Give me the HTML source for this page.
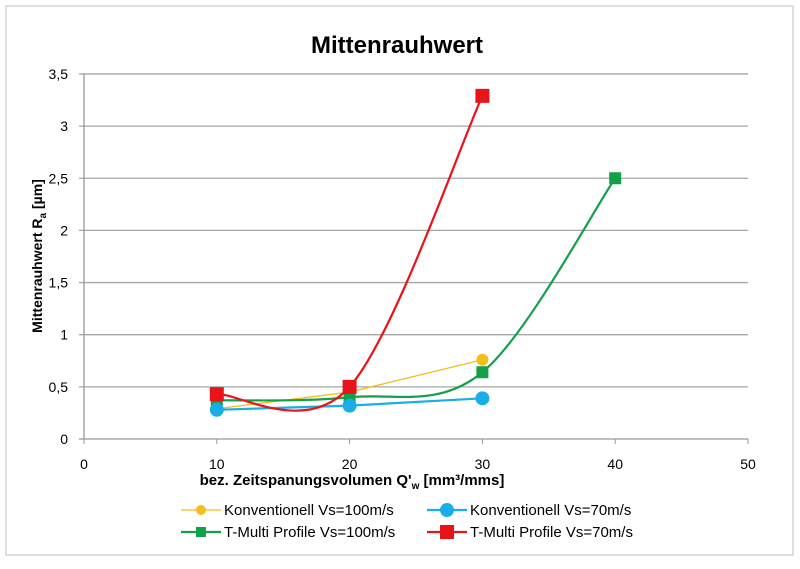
<!DOCTYPE html>
<html><head><meta charset="utf-8"><style>
body{margin:0;background:#fff;font-family:"Liberation Sans",sans-serif}
svg text{font-family:"Liberation Sans",sans-serif}
</style></head><body>
<svg width="800" height="564" viewBox="0 0 800 564" xmlns="http://www.w3.org/2000/svg">
<rect x="6" y="6" width="787" height="549" fill="#fff" stroke="#bfbfbf"/>
<text x="397" y="53" text-anchor="middle" font-size="24" font-weight="bold">Mittenrauhwert</text>
<g id="grid"></g><g id="axes"></g><g id="series"></g>
<text transform="translate(42,256) rotate(-90)" text-anchor="middle" font-size="14" font-weight="bold">Mittenrauhwert  R<tspan font-size="10" dy="4">a</tspan><tspan dy="-4"> [µm]</tspan></text>
<text x="352" y="485" text-anchor="middle" font-size="15" font-weight="bold">bez. Zeitspanungsvolumen  Q'<tspan font-size="10" dy="4">w</tspan><tspan dy="-4">  [mm³/mms]</tspan></text>
<g id="legend"></g>
</svg>
<script>
const xTicks=[0,10,20,30,40,50];
const yTicks=[0,0.5,1,1.5,2,2.5,3,3.5];
const yTickLabels=["0","0,5","1","1,5","2","2,5","3","3,5"];
const konv100X=[10,20,30], konv100Y=[0.29,0.45,0.76];
const konv70X=[10,20,30], konv70Y=[0.28,0.32,0.39];
const tm100X=[10,20,30,40], tm100Y=[0.37,0.40,0.64,2.5];
const tm70X=[10,20,30], tm70Y=[0.43,0.50,3.29];
const seriesNames=["Konventionell  Vs=100m/s","Konventionell  Vs=70m/s","T-Multi Profile  Vs=100m/s","T-Multi Profile  Vs=70m/s"];
const NS="http://www.w3.org/2000/svg";
const X=v=>84+v*13.28, Y=v=>439-v*104.3;
function mk(t,a,p){const e=document.createElementNS(NS,t);for(const k in a)e.setAttribute(k,a[k]);p.appendChild(e);return e;}
const grid=document.getElementById('grid'),axes=document.getElementById('axes'),ser=document.getElementById('series'),leg=document.getElementById('legend');
const yAxis=mk('line',{x1:X(0),x2:X(0),y1:Y(3.5),y2:Y(0),stroke:'#999','stroke-width':1.3},axes);


yTicks.forEach((v,i)=>{
 const l=mk('line',{x1:X(0)-5,x2:X(50),y1:Y(v),y2:Y(v),stroke:i==0?'#999':'#a6a6a6','stroke-width':1.3},grid);
 
 
 const t=mk('text',{x:X(0)-16,y:Y(v)+5,'text-anchor':'end','font-size':14},axes);t.textContent=yTickLabels[i];
 
 
});
xTicks.forEach(v=>{
 const l=mk('line',{x1:X(v),x2:X(v),y1:Y(0),y2:Y(0)+5,stroke:'#999'},axes);
 
 
 const t=mk('text',{x:X(v),y:Y(0)+30,'text-anchor':'middle','font-size':14},axes);t.textContent=v;
 
 
});
function smooth(p){let d=`M${p[0][0]},${p[0][1]}`;for(let i=0;i<p.length-1;i++){const p0=p[i-1]||p[i],p1=p[i],p2=p[i+1],p3=p[i+2]||p2;
 const c1=[p1[0]+(p2[0]-p0[0])/6,p1[1]+(p2[1]-p0[1])/6],c2=[p2[0]-(p3[0]-p1[0])/6,p2[1]-(p3[1]-p1[1])/6];
 d+=` C${c1[0]},${c1[1]} ${c2[0]},${c2[1]} ${p2[0]},${p2[1]}`;}return d;}
function draw(xs,ys,color,w,isSmooth,marker,size,name){
 const p=xs.map((x,i)=>[X(x),Y(ys[i])]);
 const d=isSmooth?smooth(p):'M'+p.map(q=>q.join(',')).join(' L');
 const path=mk('path',{d,fill:'none',stroke:color,'stroke-width':w},ser);
 
 
 p.forEach(q=>{let m;
  if(marker=='c')m=mk('circle',{cx:q[0],cy:q[1],r:size,fill:color},ser);
  else m=mk('rect',{x:q[0]-size,y:q[1]-size,width:2*size,height:2*size,fill:color},ser);
  
  });
}
draw(konv100X,konv100Y,'#f5be1c',1.3,false,'c',6,'konv-100');
draw(tm100X,tm100Y,'#12a048',2.2,true,'s',6,'tmulti-100');
draw(konv70X,konv70Y,'#1aaee8',2.2,false,'c',7,'konv-70');
draw(tm70X,tm70Y,'#e8141a',2.2,true,'s',7,'tmulti-70');
const legItems=[[181,510,'#f5be1c','c',5,1.3],[427,510,'#1aaee8','c',7,2.2],[181,532,'#12a048','s',5,2.2],[427,532,'#e8141a','s',7,2.2]];
legItems.forEach((it,i)=>{const [x,y,c,m,s,w]=it;
 const g=mk('g',{},leg);
 
 
 mk('line',{x1:x,x2:x+40,y1:y,y2:y,stroke:c,'stroke-width':w},g);
 if(m=='c')mk('circle',{cx:x+20,cy:y,r:s,fill:c},g);else mk('rect',{x:x+20-s,y:y-s,width:2*s,height:2*s,fill:c},g);
 const t=mk('text',{x:x+43,y:y+5,'font-size':15},g);t.textContent=seriesNames[i];
});
</script>
</body></html>
